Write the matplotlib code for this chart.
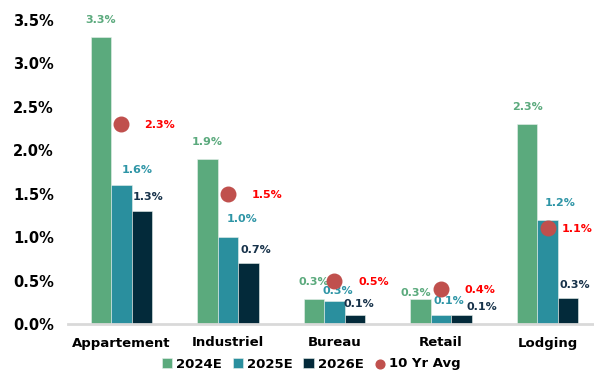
import numpy as np
import matplotlib.pyplot as plt

plt.rcParams["font.family"] = ["DejaVu Sans"]
plt.rcParams["font.weight"] = "bold"

categories = ["Appartement", "Industriel", "Bureau", "Retail", "Lodging"]
series_names = ["2024E", "2025E", "2026E"]
y2024 = [3.3, 1.9, 0.29, 0.29, 2.3]
y2025 = [1.6, 1.0, 0.26, 0.1, 1.2]
y2026 = [1.3, 0.7, 0.1, 0.1, 0.3]
avg10 = [2.3, 1.5, 0.49, 0.4, 1.1]

bar_colors = ["#5BAA7D", "#2A8F9E", "#032A3A"]
text_colors = ["#5BAA7D", "#2E95A6", "#17324A"]
dot_color = "#C0504D"

# label nudges in pixels (label centre relative to top centre of each bar)
lab_dx = [[0, 0, 0, -5, 0], [15.5, 14, 3, 8, 12], [6, 8, 4, 20, 6.5]]
lab_dy = [[17.7, 17.3, 17.3, 5.7, 17.7], [15.4, 17.7, 10, 14.4, 17], [14, 13, 11.7, 8.4, 13.3]]
dot_dx = [23.3, 23.3, 24, 23.3, 14.4]

fig = plt.figure(figsize=(5.94, 3.72), dpi=100)
ax = fig.add_axes([68 / 594, 48 / 372, 533 / 594, 304 / 372])

x = np.arange(len(categories))
w = 0.192
handles = []
for k, vals in enumerate([y2024, y2025, y2026]):
    xs = x + (k - 1) * w
    h = ax.bar(xs, vals, width=w, color=bar_colors[k], label=series_names[k],
               edgecolor="#E8F0EC", linewidth=0.4, zorder=2)
    handles.append(h)
    for i, v in enumerate(vals):
        ax.annotate(f"{v:.1f}%", (xs[i], v), xytext=(lab_dx[k][i], lab_dy[k][i]),
                    textcoords="offset pixels", ha="center", va="center",
                    fontsize=8, color=text_colors[k], fontweight="bold",
                    annotation_clip=False)

h = ax.scatter(x, avg10, s=110, color=dot_color, zorder=3, label="10 Yr Avg")
handles.append(h)
for i, v in enumerate(avg10):
    ax.annotate(f"{v:.1f}%", (x[i], v), xytext=(dot_dx[i], -1),
                textcoords="offset pixels", ha="left", va="center",
                fontsize=8, color="#FF0000", fontweight="bold",
                annotation_clip=False)

ax.set_xlim(-0.5, 4.5)
ax.set_ylim(0, 3.5)
ax.set_yticks(np.arange(0, 3.51, 0.5))
ax.set_yticklabels([f"{t:.1f}%" for t in np.arange(0, 3.51, 0.5)])
ax.set_xticks(x)
ax.set_xticklabels(categories)
ax.tick_params(axis="y", length=0, pad=10, labelsize=10.5)
ax.tick_params(axis="x", length=0, pad=9, labelsize=9.5)
for s in ["top", "right", "left"]:
    ax.spines[s].set_visible(False)
ax.spines["bottom"].set_color("#D9D9D9")
ax.spines["bottom"].set_linewidth(2)

fig.legend(handles=handles, loc="center", bbox_to_anchor=(311 / 594, 8 / 372), ncol=4,
           frameon=False, fontsize=9.5, handlelength=0.8, handleheight=0.8,
           handletextpad=0.3, columnspacing=0.8, borderaxespad=0, markerscale=0.6)

fig.savefig("out.png", dpi=100)
